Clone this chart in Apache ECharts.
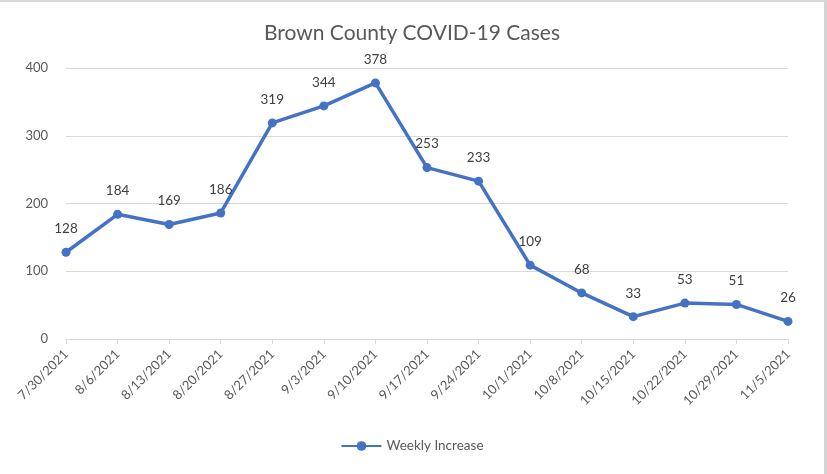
<!DOCTYPE html>
<html><head><meta charset="utf-8">
<script src="https://cdn.jsdelivr.net/npm/echarts@6/dist/echarts.min.js"></script>
<style>
html,body{margin:0;padding:0;background:#fff;}
#wrap{position:absolute;left:0;top:0;width:827px;height:474px;box-sizing:border-box;border-top:2px solid #d9d9d9;border-right:3px solid #d4d4d4;}
#c{width:100%;height:100%;}
</style>
</head><body>
<div id="wrap"><div id="c"></div></div>
<script>
const categories = ['7/30/2021','8/6/2021','8/13/2021','8/20/2021','8/27/2021','9/3/2021','9/10/2021','9/17/2021','9/24/2021','10/1/2021','10/8/2021','10/15/2021','10/22/2021','10/29/2021','11/5/2021'];
const weeklyIncrease = [128,184,169,186,319,344,378,253,233,109,68,33,53,51,26];
const yTicks = {min:0, max:400, interval:100};
const seriesName = 'Weekly Increase';
const titleText = 'Brown County COVID-19 Cases';

const chart = echarts.init(document.getElementById('c'));
const font = 'Lato, "Open Sans", sans-serif';
chart.setOption({
  animation:false,
  title:{text:titleText,left:'center',top:16,textStyle:{fontFamily:font,fontSize:21,fontWeight:'normal',color:'#595959'}},
  legend:{bottom:16,left:'center',itemWidth:40,itemHeight:12,itemGap:4,textStyle:{fontFamily:font,fontSize:13.5,color:'#595959'},data:[{name:seriesName}]},
  grid:{left:66,right:36,top:66,bottom:135,containLabel:false},
  xAxis:{type:'category',data:categories,boundaryGap:false,
    axisLine:{lineStyle:{color:'#d9d9d9'}},
    axisTick:{show:true,alignWithLabel:true,length:5,lineStyle:{color:'#d9d9d9'}},
    axisLabel:{rotate:45,fontFamily:font,fontSize:13,color:'#595959',margin:13,interval:0},
    splitLine:{show:false}},
  yAxis:{type:'value',min:yTicks.min,max:yTicks.max,interval:yTicks.interval,
    axisLine:{show:false},axisTick:{show:false},
    axisLabel:{fontFamily:font,fontSize:13,color:'#595959',margin:18},
    splitLine:{lineStyle:{color:'#d9d9d9'}}},
  series:[{name:seriesName,type:'line',data:weeklyIncrease,
    lineStyle:{color:'#4472C4',width:3.5},itemStyle:{color:'#4472C4'},
    symbol:'circle',symbolSize:9,
    label:{show:true,position:'top',distance:12,fontFamily:font,fontSize:13.5,color:'#404040'}}]
});
</script>
</body></html>
